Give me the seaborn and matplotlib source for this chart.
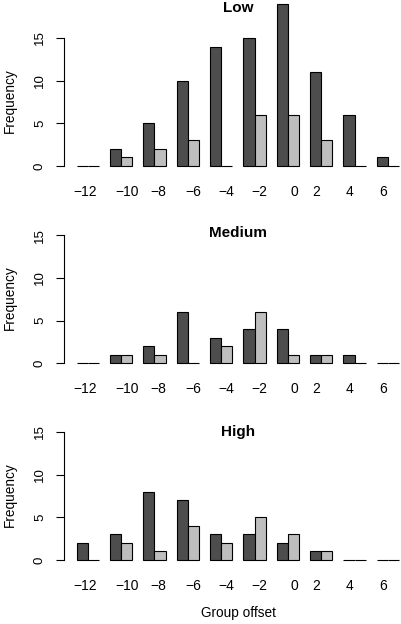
'''
grouped frequency bars by group offset, three panels
'''
import numpy as np
import pandas as pd
import seaborn as sns
import matplotlib
matplotlib.use('Agg')
import matplotlib.pyplot as plt

sns.set_style('white')
plt.rcParams['font.family'] = ['Liberation Sans', 'DejaVu Sans']
plt.rcParams['text.color'] = 'black'
plt.rcParams['axes.labelcolor'] = 'black'
plt.rcParams['xtick.color'] = 'black'
plt.rcParams['ytick.color'] = 'black'

offsets = [-12, -10, -8, -6, -4, -2, 0, 2, 4, 6]
panels = ['Low', 'Medium', 'High']

low_dark = [0, 2, 5, 10, 14, 15, 19, 11, 6, 1]
low_light = [0, 1, 2, 3, 0, 6, 6, 3, 0, 0]
medium_dark = [0, 1, 2, 6, 3, 4, 4, 1, 1, 0]
medium_light = [0, 1, 1, 0, 2, 6, 1, 1, 0, 0]
high_dark = [2, 3, 8, 7, 3, 3, 2, 1, 0, 0]
high_light = [0, 2, 1, 4, 2, 5, 3, 1, 0, 0]

counts = {
    'Low': (low_dark, low_light),
    'Medium': (medium_dark, medium_light),
    'High': (high_dark, high_light),
}

dark = '#4d4d4d'
light = '#bebebe'

# label spots along the category axis
label_pos = [-0.084, 1.166, 2.114, 3.164, 4.166, 5.144, 6.184, 6.844, 7.843, 8.845]
title_y = {'Low': 18.5, 'Medium': 15.3, 'High': 15.0}

W, H = 402, 624
fig = plt.figure(figsize=(W / 100, H / 100), dpi=100)

zero_px = {'Low': 166, 'Medium': 363.3, 'High': 560}
px_per_unit = 8.53
ylim = (-0.76, 19.76)
ax_h = (ylim[1] - ylim[0]) * px_per_unit

for name in panels:
    d, l = counts[name]
    df = pd.DataFrame({
        'offset': offsets * 2,
        'count': d + l,
        'series': ['first'] * len(offsets) + ['second'] * len(offsets),
    })
    bottom_px = zero_px[name] - ylim[0] * px_per_unit
    ax = fig.add_axes([64 / W, (H - bottom_px) / H, (W - 64) / W, ax_h / H])
    sns.barplot(data=df, x='offset', y='count', hue='series', order=offsets,
                palette=[dark, light], width=2 / 3, gap=0, edgecolor='black',
                linewidth=0.8, legend=False, ax=ax)
    ax.set_xlim(-0.714, 9.423)
    ax.set_ylim(*ylim)
    for s in ['top', 'right', 'bottom']:
        ax.spines[s].set_visible(False)
    ax.spines['left'].set_bounds(0, 15)
    ax.spines['left'].set_color('black')
    ax.spines['left'].set_linewidth(0.8)
    ax.set_yticks([0, 5, 10, 15])
    ax.set_yticklabels(['0', '5', '10', '15'], rotation=90, va='center')
    ax.tick_params(axis='y', left=True, length=6, width=0.8, pad=7, labelsize=9.5)
    ax.set_xticks(label_pos)
    ax.set_xticklabels(['\u2212' + str(-o) if o < 0 else str(o) for o in offsets])
    ax.tick_params(axis='x', bottom=False, length=0, pad=9, labelsize=10)
    ax.set_xlabel('')
    ax.set_ylabel('Frequency', fontsize=9.8, va='center', ha='center')
    ax.yaxis.set_label_coords(-54 / (W - 64), 7.7, transform=ax.get_yaxis_transform())
    ax.text(4.505, title_y[name], name, ha='center', va='center',
            fontsize=11, fontweight='bold')
    ax.patch.set_alpha(0)

ax.set_xlabel('Group offset', fontsize=9.8, va='center')
ax.xaxis.set_label_coords(4.505, (bottom_px - 613) / ax_h, transform=ax.get_xaxis_transform())

fig.savefig('out.png', dpi=100)
